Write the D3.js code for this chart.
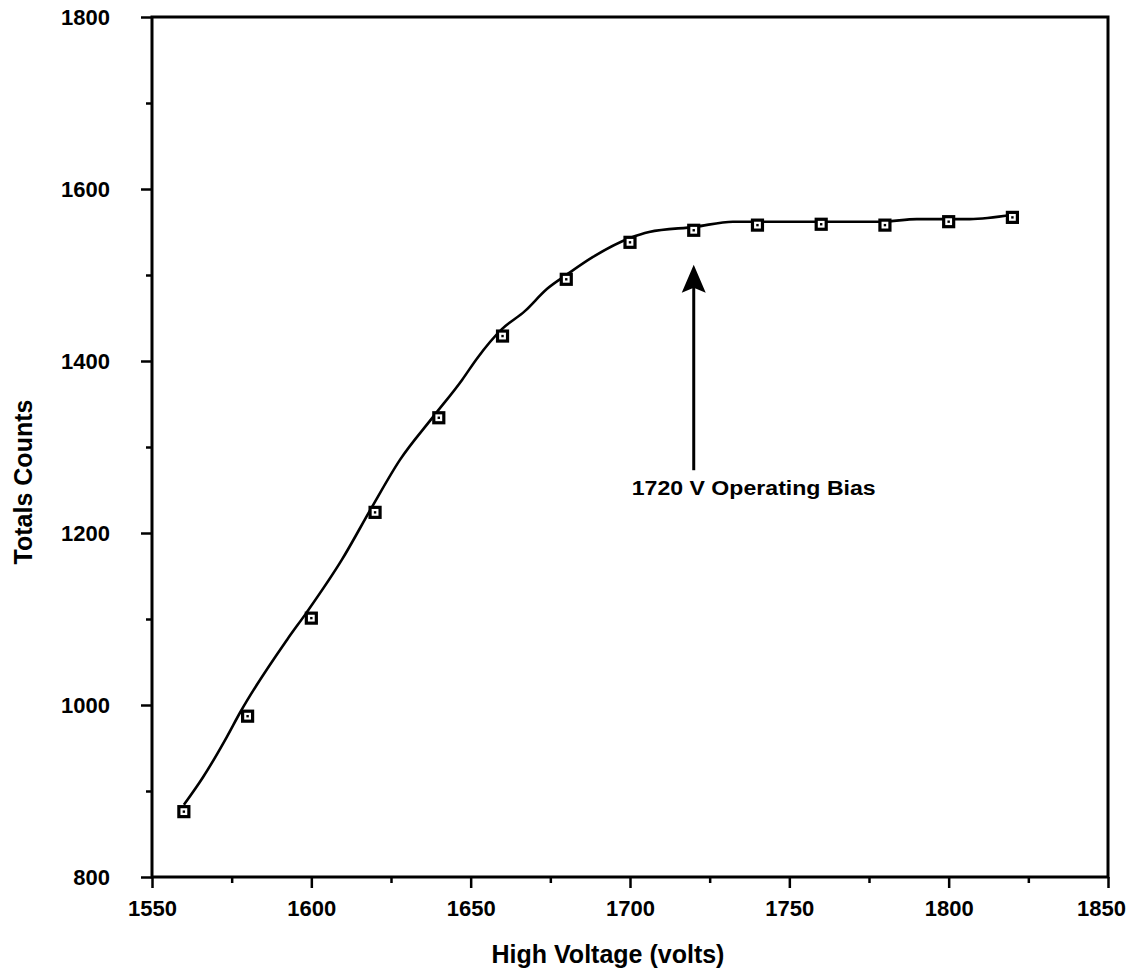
<!DOCTYPE html>
<html>
<head>
<meta charset="utf-8">
<title>High voltage plateau</title>
<script src="https://cdnjs.cloudflare.com/ajax/libs/d3/7.8.5/d3.min.js"></script>
<style>
  body { margin: 0; background: #fff; }
  svg text { font-family: "Liberation Sans", Arial, Helvetica, sans-serif; font-weight: bold; fill: #000; }
</style>
</head>
<body>
<div id="chart"></div>
<script>
// measured points (square markers)
var voltage = [1560, 1580, 1600, 1620, 1640, 1660, 1680, 1700, 1720, 1740, 1760, 1780, 1800, 1820];
var counts  = [876, 987, 1101, 1224, 1334, 1429, 1495, 1538, 1552, 1558, 1559, 1558, 1562, 1567];

// the drawn (fitted) curve
var curveV = [1560, 1566, 1573.5, 1577.6, 1592.4, 1598.6, 1609.6, 1619, 1627.8, 1638.2, 1647.3, 1652, 1659.8, 1667, 1674, 1680, 1688.4, 1700, 1706, 1720.4, 1732.3, 1753, 1779, 1790, 1806.6, 1820];
var curveC = [884, 916, 963, 991, 1076, 1108, 1169, 1230, 1285, 1335, 1378, 1403, 1437, 1458, 1484, 1500, 1521, 1543, 1550, 1556, 1562, 1562, 1562, 1565, 1565, 1570];

// ticks
var xMajor = [1550, 1600, 1650, 1700, 1750, 1800, 1850];
var xMinor = [1575, 1625, 1675, 1725, 1775, 1825];
var yMajor = [800, 1000, 1200, 1400, 1600, 1800];
var yMinor = [900, 1100, 1300, 1500, 1700];

// annotation
var biasV = 1720;
var arrowFrom = 1273, arrowTo = 1512;
var biasLabel = "1720 V Operating Bias";

var W = 1127, H = 972;
var m = {left: 152, top: 17, right: 19, bottom: 95};
var w = W - m.left - m.right, h = H - m.top - m.bottom;

var svg = d3.select("#chart").append("svg")
  .attr("width", W).attr("height", H);

var g = svg.append("g").attr("transform", "translate(" + m.left + "," + m.top + ")");

var x = d3.scaleLinear().domain([1550, 1850]).range([0, w]);
var y = d3.scaleLinear().domain([800, 1800]).range([h, 0]);

// minor ticks first (no labels)
g.append("g").attr("transform", "translate(0," + h + ")")
  .call(d3.axisBottom(x).tickValues(xMinor).tickSize(6).tickSizeOuter(0).tickFormat(""))
  .call(function(a) { a.select(".domain").remove(); });
g.append("g")
  .call(d3.axisLeft(y).tickValues(yMinor).tickSize(6).tickSizeOuter(0).tickFormat(""))
  .call(function(a) { a.select(".domain").remove(); });

// major ticks
var xa = g.append("g").attr("transform", "translate(0," + h + ")")
  .call(d3.axisBottom(x).tickValues(xMajor).tickSize(11).tickSizeOuter(0).tickPadding(12).tickFormat(d3.format("d")));
var ya = g.append("g")
  .call(d3.axisLeft(y).tickValues(yMajor).tickSize(11).tickSizeOuter(0).tickPadding(31).tickFormat(d3.format("d")));

[xa, ya].forEach(function(a) {
  a.select(".domain").remove();
  a.selectAll("text").style("font-size", "22px");
});
// last x label sits against the page edge
xa.selectAll(".tick text").filter(function(d) { return d === 1850; }).attr("x", -7);
g.selectAll(".tick line").attr("stroke", "#000").attr("stroke-width", 2.5);

// frame
g.append("rect").attr("x", 0).attr("y", 0).attr("width", w).attr("height", h)
  .attr("fill", "none").attr("stroke", "#000").attr("stroke-width", 3);

// curve
var pts = curveV.map(function(v, i) { return [v, curveC[i]]; });
var line = d3.line()
  .x(function(d) { return x(d[0]); })
  .y(function(d) { return y(d[1]); })
  .curve(d3.curveMonotoneX);
g.append("path").datum(pts).attr("d", line)
  .attr("fill", "none").attr("stroke", "#000").attr("stroke-width", 2.6)
  .attr("stroke-linejoin", "round");

// markers
var mk = g.selectAll(".mk").data(voltage).enter().append("g").attr("class", "mk")
  .attr("transform", function(d, i) { return "translate(" + x(d) + "," + y(counts[i]) + ")"; });
mk.append("rect").attr("x", -5).attr("y", -5).attr("width", 10).attr("height", 10)
  .attr("fill", "#fff").attr("stroke", "#000").attr("stroke-width", 3.2);
mk.append("rect").attr("x", -1.2).attr("y", -1.2).attr("width", 2.4).attr("height", 2.4).attr("fill", "#000");

// arrow
var ax = x(biasV);
g.append("line").attr("x1", ax).attr("x2", ax)
  .attr("y1", y(arrowFrom)).attr("y2", y(arrowTo) + 22)
  .attr("stroke", "#000").attr("stroke-width", 3);
var ty = y(arrowTo);
g.append("path")
  .attr("d", "M" + ax + "," + ty + " L" + (ax + 12) + "," + (ty + 28) + " L" + ax + "," + (ty + 23) +
             " L" + (ax - 12) + "," + (ty + 28) + " Z")
  .attr("fill", "#000");
g.append("text").attr("x", ax - 62).attr("y", y(arrowFrom) + 25)
  .attr("textLength", 244).attr("lengthAdjust", "spacingAndGlyphs")
  .style("font-size", "20px").text(biasLabel);

// axis titles
svg.append("text").attr("x", 608).attr("y", 963).attr("text-anchor", "middle")
  .style("font-size", "25px").text("High Voltage (volts)");
svg.append("text").attr("transform", "translate(32,482) rotate(-90)").attr("text-anchor", "middle")
  .style("font-size", "25px").text("Totals Counts");
</script>
</body>
</html>
